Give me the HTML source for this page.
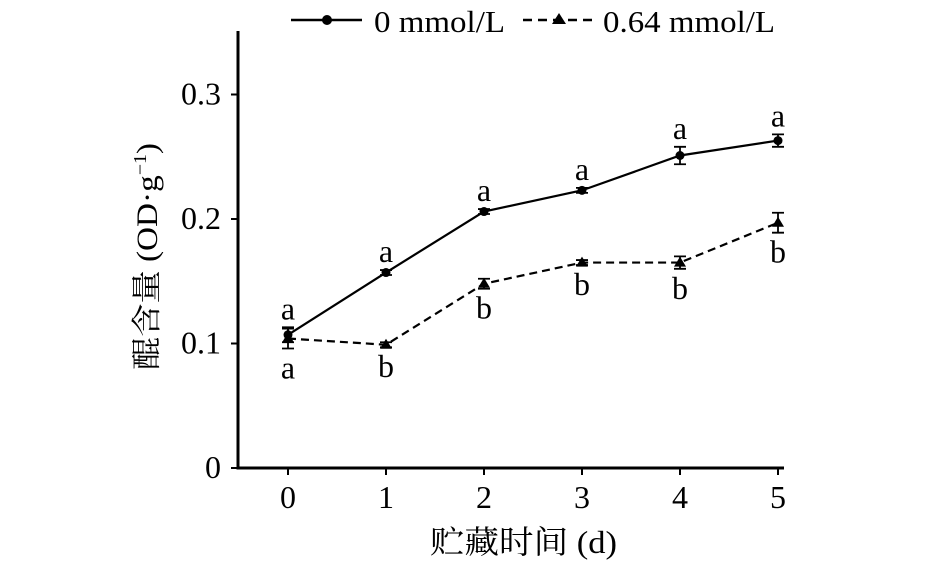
<!DOCTYPE html>
<html><head><meta charset="utf-8"><style>
html,body{margin:0;padding:0;background:#fff;}
svg{display:block;font-family:"Liberation Serif","Noto Serif CJK SC",serif;}
</style></head><body>
<svg id="chart" width="945" height="561" viewBox="0 0 945 561">
<g id="axes"></g>
<g id="marks"></g>
<g id="legend">
  <line x1="291" y1="20" x2="362" y2="20" stroke="#000" stroke-width="2.4"/>
  <circle cx="327" cy="20" r="5" fill="#000"/>
  <text x="374" y="32" font-size="31" textLength="131" lengthAdjust="spacingAndGlyphs">0 mmol/L</text>
  <line x1="523" y1="20" x2="593" y2="20" stroke="#000" stroke-width="2.4" stroke-dasharray="9,6"/>
  <polygon points="559,13 566,24 552,24" fill="#000"/>
  <text x="603" y="32" font-size="31" textLength="172" lengthAdjust="spacingAndGlyphs">0.64 mmol/L</text>
</g>
<text x="430" y="553" font-size="32" textLength="187" lengthAdjust="spacingAndGlyphs">贮藏时间 (d)</text>
<text transform="translate(157,370) rotate(-90)" font-size="30" textLength="227" lengthAdjust="spacingAndGlyphs">醌含量 (OD·g<tspan font-size="18" dy="-11">−1</tspan><tspan dy="11">)</tspan></text>
</svg>
<script>
const categories=[0,1,2,3,4,5];
const controlValues=[0.107,0.157,0.206,0.223,0.251,0.263];
const controlErrors=[0.006,0.002,0.002,0.002,0.007,0.005];
const treatValues=[0.104,0.099,0.148,0.165,0.165,0.197];
const treatErrors=[0.008,0.002,0.004,0.002,0.005,0.008];
const controlLetters=["a","a","a","a","a","a"];
const treatLetters=["a","b","b","b","b","b"];
const yTicks=[0,0.1,0.2,0.3];
const yTickLabels=["0","0.1","0.2","0.3"];

const NS="http://www.w3.org/2000/svg";
const x0=238,y0=468;
const xs=c=>288+c*98;
const ys=v=>y0-v*1245;
function mk(tag,attrs,parent,text){const e=document.createElementNS(NS,tag);for(const k in attrs)e.setAttribute(k,attrs[k]);if(text!==undefined)e.textContent=text;parent.appendChild(e);return e;}
const axes=document.getElementById('axes'),marks=document.getElementById('marks');
let e=mk('line',{x1:x0,y1:31,x2:x0,y2:y0+1.5,stroke:'#000','stroke-width':3},axes);


e=mk('line',{x1:x0-1.5,y1:y0,x2:784,y2:y0,stroke:'#000','stroke-width':3},axes);


yTicks.forEach((v,i)=>{
  const t=mk('line',{x1:x0-7,y1:ys(v),x2:x0,y2:ys(v),stroke:'#000','stroke-width':2},axes);
  
  
  const l=mk('text',{x:221,y:ys(v)+10,'font-size':32,'text-anchor':'end'},axes,yTickLabels[i]);
  
  
});
categories.forEach(c=>{
  const t=mk('line',{x1:xs(c),y1:y0,x2:xs(c),y2:y0+7,stroke:'#000','stroke-width':2},axes);
  
  
  const l=mk('text',{x:xs(c),y:508,'font-size':32,'text-anchor':'middle'},axes,String(c));
  
  
});
function series(vals,errs,dash,name,marker,letters,above){
  const p=mk('polyline',{points:vals.map((v,i)=>xs(categories[i])+','+ys(v)).join(' '),fill:'none',stroke:'#000','stroke-width':2.2,'stroke-dasharray':dash},marks);
  
  
  vals.forEach((v,i)=>{
    const x=xs(categories[i]),y=ys(v),t=ys(v+errs[i]),b=ys(v-errs[i]);
    const eb=mk('path',{d:`M${x},${t}V${b}M${x-6},${t}H${x+6}M${x-6},${b}H${x+6}`,stroke:'#000','stroke-width':1.8,fill:'none'},marks);
    
    
    let m;
    if(marker==='circle') m=mk('circle',{cx:x,cy:y,r:4.5,fill:'#000'},marks);
    else m=mk('polygon',{points:`${x},${y-6} ${x+6},${y+4} ${x-6},${y+4}`,fill:'#000'},marks);
    
    
    const ly=above? t-8 : b+30;
    const lt=mk('text',{x:x,y:ly,'font-size':32,'text-anchor':'middle'},marks,letters[i]);
    
    
  });
}
series(controlValues,controlErrors,'none','control','circle',controlLetters,true);
series(treatValues,treatErrors,'8,5','treatment','triangle',treatLetters,false);
</script>
</body></html>
